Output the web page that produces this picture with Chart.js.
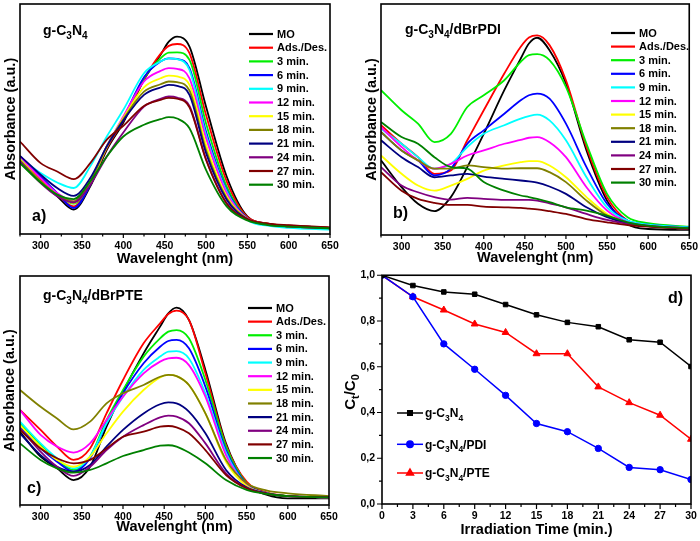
<!DOCTYPE html>
<html><head><meta charset="utf-8">
<script src="https://cdn.jsdelivr.net/npm/chart.js@4.4.1/dist/chart.umd.min.js"></script>
<style>
html,body{margin:0;padding:0;background:#fff;}
#wrap{position:relative;width:700px;height:541px;overflow:hidden;background:#fff;}
canvas{position:absolute;}
</style></head><body>
<div id="wrap">
<canvas id="ca" width="350" height="270" style="left:0px;top:0px"></canvas>
<canvas id="cb" width="350" height="270" style="left:350px;top:0px"></canvas>
<canvas id="cc" width="350" height="271" style="left:0px;top:270px"></canvas>
<canvas id="cd" width="370" height="273" style="left:330px;top:268px"></canvas>
</div>
<script>
// ---------- DATA ----------
const WAVELENGTHS = [275,300,320,340,360,380,400,425,445,455,465,480,500,525,550,575,600,650];
const SERIES_LABELS = ['MO','Ads./Des.','3 min.','6 min.','9 min.','12 min.','15 min.','18 min.','21 min.','24 min.','27 min.','30 min.'];
const SERIES_COLORS = ['#000000','#ff0000','#00ee00','#0000ff','#00ffff','#ff00ff','#ffff00','#808000','#000080','#800080','#800000','#008000'];
const X_TICKS = [300,350,400,450,500,550,600,650];
const X_MINOR = [275,325,375,425,475,525,575,625];

// Panel a) g-C3N4 (rows follow SERIES_LABELS)
const PANEL_A = [
 [.315,.229,.164,.106,.207,.366,.485,.670,.779,.836,.858,.815,.554,.250,.077,.045,.036,.027],
 [.323,.236,.171,.120,.214,.373,.493,.673,.783,.818,.826,.786,.518,.229,.074,.045,.036,.027],
 [.311,.224,.171,.132,.221,.381,.499,.677,.764,.789,.790,.757,.482,.207,.069,.043,.035,.026],
 [.337,.250,.178,.113,.214,.381,.504,.682,.750,.764,.761,.721,.446,.192,.068,.042,.033,.025],
 [.330,.265,.224,.200,.294,.424,.540,.699,.750,.764,.760,.713,.431,.185,.062,.036,.027,.019],
 [.337,.243,.178,.142,.229,.381,.511,.663,.709,.721,.718,.677,.417,.178,.067,.042,.033,.025],
 [.326,.229,.171,.135,.224,.378,.504,.638,.677,.689,.685,.648,.388,.164,.065,.042,.033,.025],
 [.320,.229,.171,.142,.229,.381,.499,.619,.651,.663,.660,.624,.366,.156,.065,.042,.033,.025],
 [.340,.258,.200,.166,.243,.381,.493,.605,.637,.648,.644,.605,.352,.149,.064,.041,.033,.025],
 [.315,.221,.164,.137,.214,.337,.441,.554,.588,.598,.593,.557,.326,.135,.062,.041,.033,.025],
 [.402,.308,.272,.239,.308,.410,.470,.557,.583,.592,.588,.551,.323,.132,.065,.045,.038,.029],
 [.308,.224,.171,.152,.229,.337,.424,.475,.499,.508,.502,.460,.279,.120,.059,.039,.032,.025]
];
// Panel b) g-C3N4/dBrPDI
const PANEL_B = [
 [.323,.207,.135,.103,.164,.294,.438,.627,.764,.829,.854,.800,.656,.366,.149,.048,.026,.022],
 [.475,.395,.337,.265,.279,.410,.540,.699,.815,.855,.864,.822,.670,.381,.164,.062,.041,.030],
 [.627,.540,.482,.402,.438,.554,.605,.670,.750,.779,.783,.757,.641,.395,.178,.077,.051,.036],
 [.446,.366,.323,.258,.287,.395,.453,.525,.583,.605,.612,.590,.482,.294,.135,.062,.045,.033],
 [.460,.395,.337,.287,.308,.381,.438,.475,.504,.515,.521,.496,.410,.250,.120,.062,.045,.033],
 [.467,.381,.323,.287,.308,.344,.366,.395,.412,.421,.424,.402,.337,.207,.106,.055,.041,.030],
 [.344,.265,.214,.192,.214,.243,.279,.301,.315,.320,.320,.301,.250,.164,.091,.051,.038,.027],
 [.446,.366,.323,.287,.287,.301,.294,.287,.289,.289,.289,.272,.229,.149,.084,.051,.038,.027],
 [.410,.337,.294,.250,.258,.265,.253,.243,.236,.232,.227,.210,.178,.120,.077,.051,.038,.027],
 [.294,.214,.185,.164,.153,.161,.156,.152,.152,.152,.149,.137,.120,.091,.065,.048,.038,.027],
 [.272,.192,.156,.139,.130,.130,.123,.120,.117,.114,.111,.103,.091,.069,.055,.043,.036,.027],
 [.489,.424,.395,.337,.294,.287,.229,.192,.171,.164,.156,.142,.120,.106,.084,.055,.041,.030]
];
// Panel c) g-C3N4/dBrPTE
const PANEL_C = [
 [.320,.211,.160,.109,.167,.342,.495,.662,.779,.837,.862,.808,.590,.269,.095,.044,.029,.029],
 [.415,.328,.255,.197,.247,.400,.546,.706,.793,.834,.849,.808,.575,.262,.102,.054,.039,.033],
 [.357,.262,.197,.153,.211,.371,.502,.648,.728,.757,.764,.728,.546,.255,.095,.051,.039,.033],
 [.342,.247,.189,.146,.204,.357,.488,.619,.691,.716,.721,.684,.517,.240,.092,.051,.039,.033],
 [.364,.269,.204,.160,.211,.357,.473,.590,.648,.670,.672,.640,.488,.229,.087,.051,.039,.033],
 [.415,.306,.255,.229,.269,.371,.473,.575,.626,.640,.643,.611,.473,.218,.087,.051,.039,.033],
 [.349,.255,.197,.167,.211,.313,.408,.502,.557,.568,.563,.524,.400,.189,.083,.051,.039,.033],
 [.502,.429,.378,.330,.364,.444,.488,.524,.560,.568,.563,.524,.400,.197,.095,.063,.051,.039],
 [.313,.218,.167,.146,.175,.255,.328,.400,.440,.448,.444,.408,.313,.153,.077,.051,.039,.033],
 [.335,.233,.167,.127,.167,.240,.298,.349,.383,.390,.386,.357,.269,.138,.073,.049,.039,.033],
 [.328,.247,.204,.182,.197,.247,.298,.320,.342,.345,.339,.313,.240,.131,.073,.049,.039,.033],
 [.269,.197,.160,.141,.153,.182,.214,.240,.259,.261,.255,.229,.182,.109,.066,.048,.039,.033]
];
// Panel d) Ct/C0 vs irradiation time
const TIME_MIN = [0,3,6,9,12,15,18,21,24,27,30];
const CT_C3N4 = [1.0,0.955,0.927,0.917,0.872,0.827,0.794,0.775,0.718,0.707,0.601];
const CT_PDI  = [1.0,0.906,0.700,0.589,0.475,0.352,0.316,0.243,0.160,0.150,0.107];
const CT_PTE  = [1.0,0.906,0.848,0.787,0.750,0.657,0.657,0.512,0.443,0.388,0.283];
const D_LABELS = ['g-C_3N_4','g-C_3N_4/PDI','g-C_3N_4/PTE'];
const D_COLORS = ['#000000','#0000ff','#ff0000'];
const D_STYLES = ['rect','circle','triangle'];
const D_X_TICKS = [0,3,6,9,12,15,18,21,24,27,30];
const D_Y_TICKS = [0,0.2,0.4,0.6,0.8,1.0];

// ---------- HELPERS ----------
const FAM = "'Liberation Sans', Arial, Helvetica, sans-serif";
const bold = s => `bold ${s}px ${FAM}`;

function richParts(str){
  const parts=[];
  for(let i=0;i<str.length;i++){
    if(str[i]==='_'){ parts.push({t:str[i+1],sub:true}); i++; }
    else if(parts.length && !parts[parts.length-1].sub){ parts[parts.length-1].t+=str[i]; }
    else parts.push({t:str[i],sub:false});
  }
  return parts;
}
function drawRich(ctx,str,x,y,size,subSize,subDy,align){
  const parts=richParts(str); let w=0;
  parts.forEach(p=>{ctx.font=bold(p.sub?subSize:size); p.w=ctx.measureText(p.t).width; w+=p.w;});
  let cx = align==='center'? x-w/2 : x;
  ctx.textAlign='left'; ctx.textBaseline='alphabetic'; ctx.fillStyle='#000';
  parts.forEach(p=>{ctx.font=bold(p.sub?subSize:size); ctx.fillText(p.t,cx,y+(p.sub?subDy:0)); cx+=p.w;});
}
function ticksAt(ctx,scale,vals,len,axis,a){
  ctx.beginPath();
  vals.forEach(v=>{
    if(axis==='x'){ const x=scale.getPixelForValue(v); ctx.moveTo(x,a.bottom); ctx.lineTo(x,a.bottom+len); }
    else { const y=scale.getPixelForValue(v); ctx.moveTo(a.left,y); ctx.lineTo(a.left-len,y); }
  });
  ctx.stroke();
}

function spectral(id, rows, L){
  const deco = {
    id:'deco',
    afterDraw(chart){
      const {ctx, chartArea:a, scales} = chart;
      ctx.save();
      ctx.strokeStyle='#000'; ctx.lineWidth=1.6;
      ctx.strokeRect(a.left,a.top,a.right-a.left,a.bottom-a.top);
      ctx.lineWidth=1.2;
      ticksAt(ctx,scales.x,X_TICKS,4,'x',a);
      ticksAt(ctx,scales.x,X_MINOR,2.5,'x',a);
      // legend
      SERIES_LABELS.forEach((lab,i)=>{
        const y=L.legY+i*L.legDy;
        ctx.strokeStyle=SERIES_COLORS[i]; ctx.lineWidth=2.2;
        ctx.beginPath(); ctx.moveTo(L.legX,y); ctx.lineTo(L.legX+24,y); ctx.stroke();
        ctx.fillStyle='#000'; ctx.font=bold(11); ctx.textAlign='left'; ctx.textBaseline='middle';
        ctx.fillText(lab,L.legX+28,y+0.5);
      });
      drawRich(ctx,L.name,L.nameX,L.nameY,14,10,4,'left');
      ctx.fillStyle='#000'; ctx.font=bold(16); ctx.textAlign='left'; ctx.textBaseline='alphabetic';
      ctx.fillText(L.tag,L.tagX,L.tagY);
      ctx.restore();
    }
  };
  return new Chart(document.getElementById(id),{
    type:'line',
    data:{datasets: rows.map((r,i)=>({
      label:SERIES_LABELS[i],
      data:WAVELENGTHS.map((w,j)=>({x:w,y:r[j]})),
      borderColor:SERIES_COLORS[i], borderWidth:1.8, pointRadius:0,
      cubicInterpolationMode:'monotone', fill:false, order:SERIES_LABELS.length-i
    }))},
    options:{
      responsive:false, animation:false, devicePixelRatio:1, events:[],
      layout:{padding:{left:0,top:L.top,right:L.right,bottom:0}},
      plugins:{legend:{display:false},tooltip:{enabled:false}},
      scales:{
        x:{type:'linear',min:275,max:650,
          afterBuildTicks:s=>{s.ticks=X_TICKS.map(v=>({value:v}));},
          afterFit:s=>{s.height=L.xh;},
          grid:{display:true,drawOnChartArea:false,color:'rgba(0,0,0,0)',tickLength:4},
          border:{display:false},
          ticks:{color:'#000',font:{family:FAM,size:10.5,weight:'bold'},padding:2,maxRotation:0,autoSkip:false},
          title:{display:true,text:'Wavelenght (nm)',color:'#000',font:{family:FAM,size:14.5,weight:'bold'},padding:{top:0,bottom:L.xtp}}
        },
        y:{type:'linear',min:0,max:1,
          afterFit:s=>{s.width=L.yw;},
          grid:{display:false}, border:{display:false}, ticks:{display:false},
          title:{display:true,text:'Absorbance (a.u.)',color:'#000',font:{family:FAM,size:14.5,weight:'bold'},padding:{top:L.ytp,bottom:0}}
        }
      }
    },
    plugins:[deco]
  });
}

spectral('ca',PANEL_A,{top:4,right:20,xh:36,yw:20,xtp:2,ytp:2,legX:249,legY:34,legDy:13.7,name:'g-C_3N_4',nameX:43,nameY:35,tag:'a)',tagX:32,tagY:221});
spectral('cb',PANEL_B,{top:4,right:10,xh:35,yw:31,xtp:3,ytp:13,legX:261,legY:33,legDy:13.6,name:'g-C_3N_4/dBrPDI',nameX:55,nameY:34,tag:'b)',tagX:43,tagY:218});
spectral('cc',PANEL_C,{top:6,right:21,xh:36,yw:20,xtp:5,ytp:1.5,legX:248,legY:38,legDy:13.64,name:'g-C_3N_4/dBrPTE',nameX:43,nameY:30,tag:'c)',tagX:27,tagY:223});

// Panel d
(function(){
  const decoD = {
    id:'decoD',
    afterDraw(chart){
      const {ctx, chartArea:a, scales} = chart;
      ctx.save();
      ctx.strokeStyle='#000'; ctx.lineWidth=1.6;
      ctx.strokeRect(a.left,a.top,a.right-a.left,a.bottom-a.top);
      ctx.lineWidth=1.2;
      ticksAt(ctx,scales.x,D_X_TICKS,5,'x',a);
      ticksAt(ctx,scales.x,D_X_TICKS.slice(0,-1).map(v=>v+1.5),3,'x',a);
      ticksAt(ctx,scales.y,D_Y_TICKS,5,'y',a);
      ticksAt(ctx,scales.y,[0.1,0.3,0.5,0.7,0.9],3,'y',a);
      const ys=[145,176.3,205];
      D_LABELS.forEach((lab,i)=>{
        const y=ys[i];
        ctx.strokeStyle=D_COLORS[i]; ctx.fillStyle=D_COLORS[i]; ctx.lineWidth=1.5;
        ctx.beginPath(); ctx.moveTo(67,y); ctx.lineTo(93,y); ctx.stroke();
        Chart.helpers.drawPoint(ctx,{pointStyle:D_STYLES[i],radius:i===2?4:3.2,rotation:0,borderWidth:1},80,y);
        drawRich(ctx,lab,95,y+4.3,12,8.5,3.5,'left');
      });
      ctx.fillStyle='#000'; ctx.font=bold(16); ctx.textAlign='left'; ctx.textBaseline='alphabetic';
      ctx.fillText('d)',338,35);
      ctx.translate(24.5,124); ctx.rotate(-Math.PI/2);
      drawRich(ctx,'C_t/C_0',0,0,15,11,4,'center');
      ctx.restore();
    }
  };
  const series=[CT_C3N4,CT_PDI,CT_PTE];
  new Chart(document.getElementById('cd'),{
    type:'line',
    data:{datasets: series.map((s,i)=>({
      label:D_LABELS[i].replace(/_/g,''),
      data:TIME_MIN.map((t,j)=>({x:t,y:s[j]})),
      borderColor:D_COLORS[i], backgroundColor:D_COLORS[i], borderWidth:1.5,
      pointStyle:D_STYLES[i], pointRadius:i===2?4:3.2, pointBorderWidth:1,
      pointBackgroundColor:D_COLORS[i], pointBorderColor:D_COLORS[i], tension:0, fill:false
    }))},
    options:{
      responsive:false, animation:false, devicePixelRatio:1, events:[],
      layout:{padding:{left:0,top:7,right:9,bottom:0}},
      plugins:{legend:{display:false},tooltip:{enabled:false}},
      scales:{
        x:{type:'linear',min:0,max:30,
          afterBuildTicks:s=>{s.ticks=D_X_TICKS.map(v=>({value:v}));},
          afterFit:s=>{s.height=37;},
          grid:{display:true,drawOnChartArea:false,color:'rgba(0,0,0,0)',tickLength:5},
          border:{display:false},
          ticks:{color:'#000',font:{family:FAM,size:10.5,weight:'bold'},padding:1,maxRotation:0,autoSkip:false},
          title:{display:true,text:'Irradiation Time (min.)',color:'#000',font:{family:FAM,size:14.5,weight:'bold'},padding:{top:0,bottom:2}}
        },
        y:{type:'linear',min:0,max:1,
          afterBuildTicks:s=>{s.ticks=D_Y_TICKS.map(v=>({value:v}));},
          afterFit:s=>{s.width=52;},
          grid:{display:true,drawOnChartArea:false,color:'rgba(0,0,0,0)',tickLength:5},
          border:{display:false},
          ticks:{color:'#000',font:{family:FAM,size:10.5,weight:'bold',lineHeight:1},padding:2,callback:v=>v.toFixed(1).replace('.',',')},
          title:{display:false}
        }
      }
    },
    plugins:[decoD]
  });
})();
</script>
</body></html>
